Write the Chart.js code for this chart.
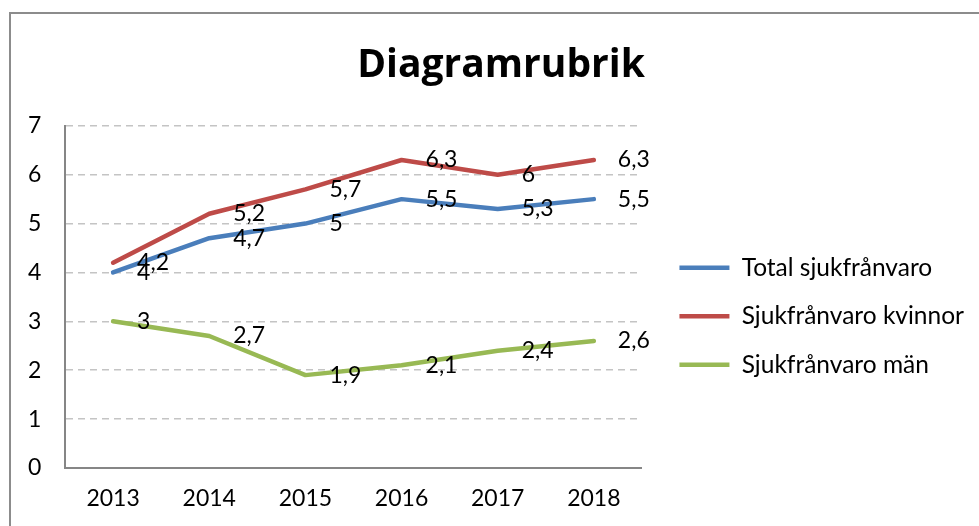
<!DOCTYPE html>
<html>
<head>
<meta charset="utf-8">
<script src="https://cdn.jsdelivr.net/npm/chart.js@4.4.1/dist/chart.umd.min.js"></script>
<style>
  html, body { margin: 0; padding: 0; background: #fff; overflow: hidden; }
  #wrap { position: relative; width: 979px; height: 526px; }
  #frame { position: absolute; left: 9px; top: 12px; width: 1000px; height: 600px; border: 2px solid #8c8c8c; box-sizing: border-box; }
  canvas { position: absolute; left: 0; top: 0; }
</style>
</head>
<body>
<div id="wrap">
  <div id="frame"></div>
  <canvas id="mycanvas" width="979" height="526"></canvas>
</div>
<script>
var years = ['2013', '2014', '2015', '2016', '2017', '2018'];
var total = [4, 4.7, 5, 5.5, 5.3, 5.5];
var kvinnor = [4.2, 5.2, 5.7, 6.3, 6, 6.3];
var man = [3, 2.7, 1.9, 2.1, 2.4, 2.6];
var seriesNames = ['Total sjukfrånvaro', 'Sjukfrånvaro kvinnor', 'Sjukfrånvaro män'];
var titleText = 'Diagramrubrik';

Chart.defaults.font.family = 'Lato';
Chart.defaults.color = '#000';

// value labels to the right of each point, swedish decimal comma
var valueLabels = {
  id: 'valueLabels',
  afterDatasetsDraw: function(chart) {
    var ctx = chart.ctx;
    ctx.save();
    ctx.font = '23px Lato';
    ctx.fillStyle = '#000';
    ctx.textAlign = 'left';
    ctx.textBaseline = 'middle';
    chart.data.datasets.forEach(function(ds, i) {
      chart.getDatasetMeta(i).data.forEach(function(pt, j) {
        ctx.fillText(String(ds.data[j]).replace('.', ','), pt.x + 24, pt.y);
      });
    });
    ctx.restore();
  }
};

function line(label, data, color) {
  return {
    label: label,
    data: data,
    borderColor: color,
    backgroundColor: color,
    borderWidth: 4.5,
    borderCapStyle: 'round',
    borderJoinStyle: 'round',
    pointRadius: 0,
    tension: 0
  };
}

var ctx = document.getElementById('mycanvas');
var chart = new Chart(ctx, {
  type: 'line',
  data: {
    labels: years,
    datasets: [
      line(seriesNames[0], total, '#4a7ebb'),
      line(seriesNames[1], kvinnor, '#be4b48'),
      line(seriesNames[2], man, '#98b954')
    ]
  },
  plugins: [valueLabels],
  options: {
    responsive: false,
    animation: false,
    layout: { padding: { left: 28, right: 5, top: 0, bottom: 0 } },
    plugins: {
      tooltip: { enabled: false },
      title: {
        display: true,
        text: titleText,
        font: { family: 'Open Sans', size: 39, weight: 'bold', lineHeight: 1.2 },
        color: '#000',
        padding: { top: 42, bottom: 37 }
      },
      legend: {
        position: 'right',
        fullSize: false,
        maxWidth: 400,
        title: { display: true, text: '', padding: 0, font: { size: 10, lineHeight: '25px' } },
        labels: {
          usePointStyle: true,
          pointStyle: 'line',
          pointStyleWidth: 50,
          padding: 37.5,
          color: '#000',
          font: { size: 24.5, lineHeight: '11px' },
          generateLabels: function(c) {
            return Chart.defaults.plugins.legend.labels.generateLabels(c).map(function(item) {
              item.text = [item.text];
              return item;
            });
          }
        }
      }
    },
    scales: {
      x: {
        offset: true,
        grid: { display: false, drawTicks: false },
        border: { display: true, color: '#868686', width: 2 },
        ticks: { font: { size: 23, lineHeight: 1.2 }, padding: 17, color: '#000' },
        afterFit: function(scale) { scale.height = 58; }
      },
      y: {
        min: 0,
        max: 7,
        ticks: { stepSize: 1, font: { size: 23 }, padding: -37, mirror: true, color: '#000' },
        grid: {
          drawTicks: false,
          color: function(c) { return c.tick && c.tick.value === 0 ? 'rgba(0,0,0,0)' : '#c4c4c4'; },
          lineWidth: 1.5
        },
        border: { display: true, color: '#868686', width: 2, dash: [7, 5] },
        afterFit: function(scale) { scale.width = 37; }
      }
    }
  }
});
</script>
</body>
</html>
